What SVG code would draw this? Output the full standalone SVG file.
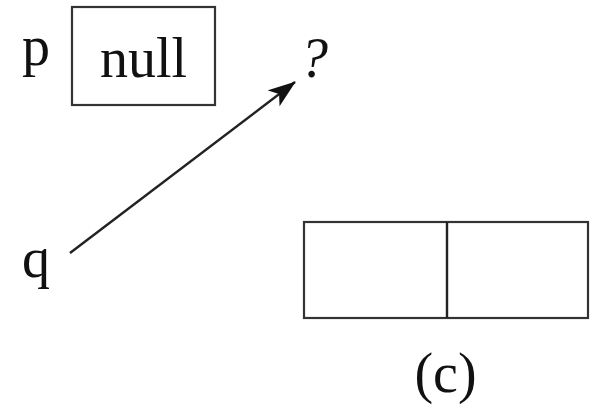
<svg xmlns="http://www.w3.org/2000/svg" width="592" height="411" viewBox="0 0 592 411">
  <style>
    .lbl { font-family: "Liberation Serif", "Times New Roman", serif; font-size: 56px; fill: #111; }
    .box { fill: #fff; stroke: #333; stroke-width: 2.2; }
    .edge { fill: none; stroke: #222; stroke-width: 2.4; }
  </style>
  <defs>
    <marker id="arrow" viewBox="0 0 28 20" refX="27" refY="10" markerWidth="28" markerHeight="20" markerUnits="userSpaceOnUse" orient="auto">
      <path d="M0,0 L28,10 L0,20 L7,10 Z" fill="#111"/>
    </marker>
  </defs>
  <rect width="592" height="411" fill="#fff"/>

  <g id="p">
    <text class="lbl" x="22" y="65">p</text>
    <rect class="box" x="72" y="7" width="143" height="98"/>
    <text class="lbl" x="143.5" y="77" text-anchor="middle">null</text>
  </g>

  <g id="unknown">
    <text class="lbl" x="300" y="77" font-style="italic" font-size="50">?</text>
  </g>

  <g id="q">
    <text class="lbl" x="22" y="277">q</text>
  </g>

  <g id="cell">
    <rect class="box" x="304" y="222" width="284" height="96"/>
    <line class="edge" x1="447" y1="222" x2="447" y2="318" stroke="#333"/>
  </g>

  <g id="caption">
    <text class="lbl" x="445.5" y="392" text-anchor="middle">(c)</text>
  </g>

  <g id="connectors">
    <line class="edge" x1="70" y1="253" x2="295" y2="82" marker-end="url(#arrow)"/>
  </g>
</svg>
